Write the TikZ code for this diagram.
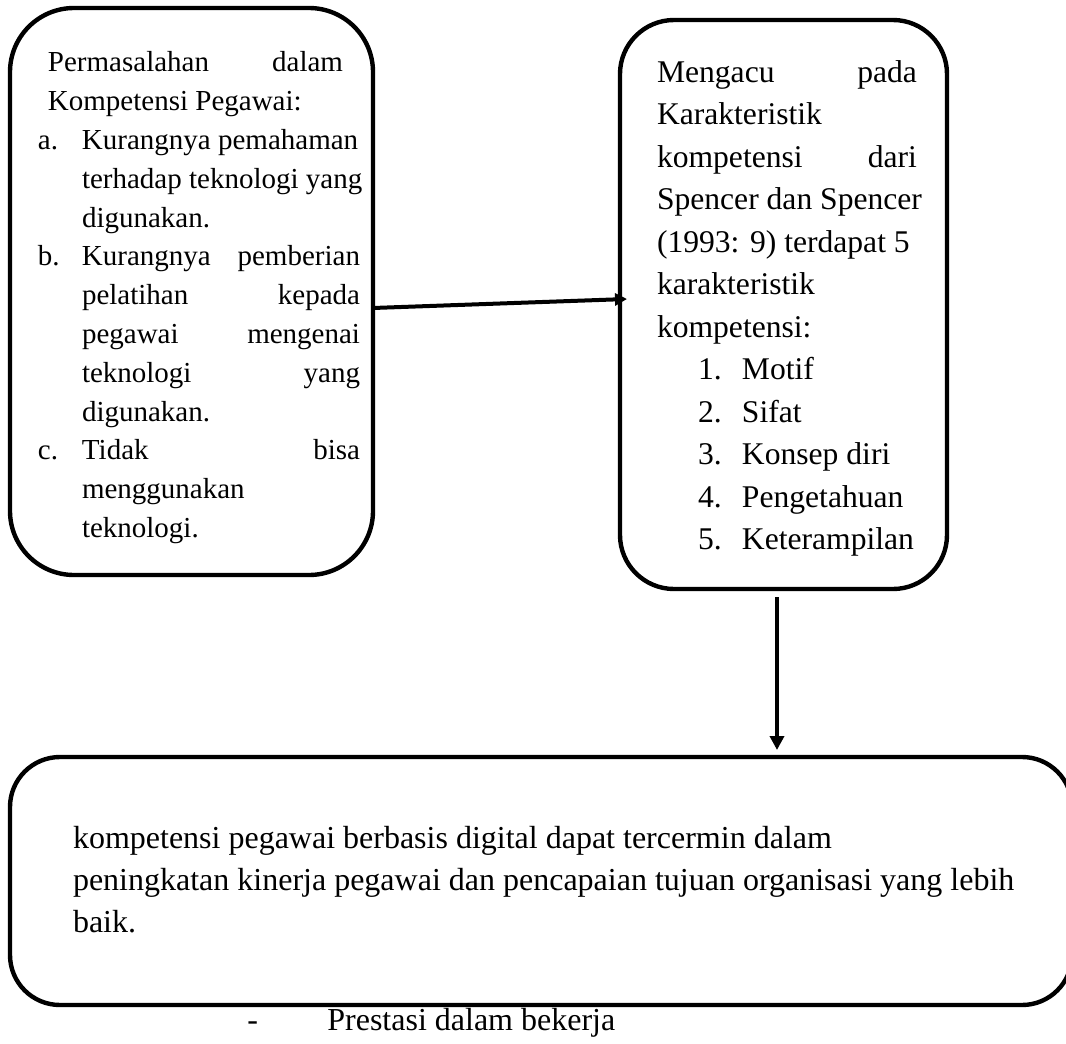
\documentclass[tikz,border=0pt]{standalone}
\usepackage{fontspec}
\setmainfont{Liberation Serif}
\usetikzlibrary{arrows.meta}
\usetikzlibrary{positioning}

\begin{document}
\begin{tikzpicture}[x=0.5pt,y=-0.5pt,
	roundbox/.style={draw,line width=2.2pt,inner sep=0,outer sep=0},
	txt/.style={inner sep=0,outer sep=0,anchor=north west,align=left},
	link/.style={line width=2pt,-{Triangle[length=7pt,width=7pt]}}]
	\useasboundingbox (0,0) rectangle (1066,1044);
	\clip (0,0) rectangle (1066,1044);
	
	% boxes
	\node[roundbox,rounded corners=32pt,minimum width=181.5pt,minimum height=283.5pt] (masalah) at (191.5,291.5) {};
	\node[roundbox,rounded corners=27pt,minimum width=163.5pt,minimum height=284.5pt] (acuan) at (783.5,304.5) {};
	\node[roundbox,rounded corners=25pt,minimum width=531pt,minimum height=124pt] (hasil) at (541,881) {};
	
	% texts
	\node[txt,font=\fontsize{14.5}{19.4}\selectfont] (masalahtxt) at (38,44.8)
	{\strut\hspace*{5pt}\makebox[147.5pt][l]{Permasalahan\hfill dalam}\\
	 \hspace*{5pt}Kompetensi Pegawai:\\
	 \makebox[22pt][l]{a.}Kurangnya pemahaman\\
	 \hspace*{22pt}terhadap teknologi yang\\
	 \hspace*{22pt}digunakan.\\
	 \makebox[22pt][l]{b.}\makebox[139pt][l]{Kurangnya\hfill pemberian}\\
	 \hspace*{22pt}\makebox[139pt][l]{pelatihan\hfill kepada}\\
	 \hspace*{22pt}\makebox[139pt][l]{pegawai\hfill mengenai}\\
	 \hspace*{22pt}\makebox[139pt][l]{teknologi\hfill yang}\\
	 \hspace*{22pt}digunakan.\\
	 \makebox[22pt][l]{c.}\makebox[139pt][l]{Tidak\hfill bisa}\\
	 \hspace*{22pt}menggunakan\\
	 \hspace*{22pt}teknologi.};
	
	\node[txt,font=\fontsize{15.8}{21.25}\selectfont] (acuantxt) at (657,52.25)
	{\strut\makebox[130pt][l]{Mengacu\hfill pada}\\
	 Karakteristik\\
	 \makebox[130pt][l]{kompetensi\hfill dari}\\
	 Spencer dan Spencer\\
	 (1993: 9) terdapat 5\\
	 karakteristik\\
	 kompetensi:\\
	 \hspace*{20.5pt}\makebox[22pt][l]{1.}Motif\\
	 \hspace*{20.5pt}\makebox[22pt][l]{2.}Sifat\\
	 \hspace*{20.5pt}\makebox[22pt][l]{3.}Konsep diri\\
	 \hspace*{20.5pt}\makebox[22pt][l]{4.}Pengetahuan\\
	 \hspace*{20.5pt}\makebox[22pt][l]{5.}Keterampilan};
	
	\node[txt,font=\fontsize{16}{21}\selectfont] (hasiltxt) at (73,818.6)
	{\strut kompetensi pegawai berbasis digital dapat tercermin dalam\\
	 peningkatan kinerja pegawai dan pencapaian tujuan organisasi yang lebih\\
	 baik.};
	
	\node[inner sep=0,anchor=base west,font=\fontsize{16}{21}\selectfont] (prestasi) at (247,1030)
	{\makebox[40pt][l]{-}Prestasi dalam bekerja};
	
	% arrows
	\draw[link,-{Triangle[length=6pt,width=6pt]}] ([yshift=-8.25pt]masalah.east) -- ([xshift=3.5pt,yshift=2.75pt]acuan.west);
	\coordinate (turun) at ([xshift=-3.25pt,yshift=-4pt]acuan.south);
	\draw[link,shorten >=3.5pt] (turun) -- (turun |- hasil.north);
\end{tikzpicture}
\end{document}
